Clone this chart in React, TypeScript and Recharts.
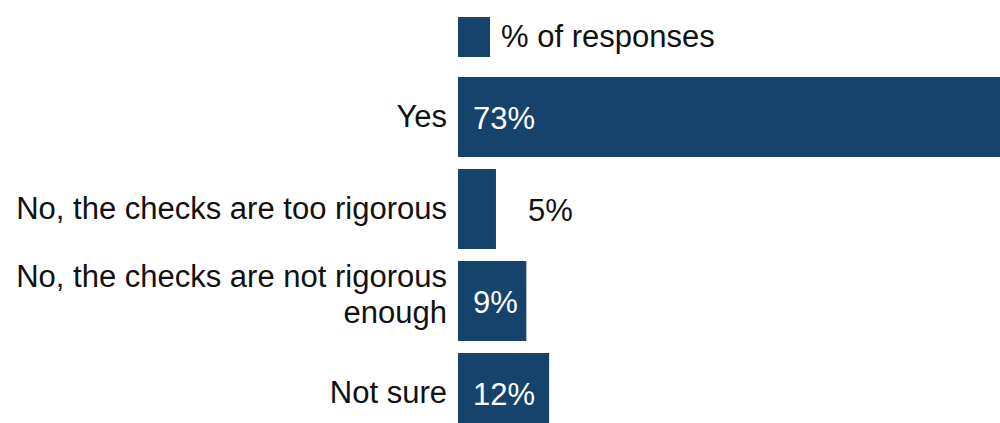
import React from "react";
import { BarChart, Bar, XAxis, YAxis, Legend, LabelList } from "recharts";

const categories = [
  "Yes",
  "No, the checks are too rigorous",
  "No, the checks are not rigorous enough",
  "Not sure",
];
const values = [73, 5, 9, 12];
const seriesName = "% of responses";

const data = categories.map((name, i) => ({ name, value: values[i] }));

const COLOR = "#15436c";
const FONT = '"Liberation Sans", Arial, sans-serif';
const FS = 31;

function wrap(text: string, max: number): string[] {
  const words = text.split(" ");
  const lines: string[] = [];
  let cur = "";
  for (const w of words) {
    const next = cur ? cur + " " + w : w;
    if (next.length > max && cur) {
      lines.push(cur);
      cur = w;
    } else cur = next;
  }
  if (cur) lines.push(cur);
  return lines;
}

const Tick = (props: any) => {
  const { x, y, payload } = props;
  const lines = wrap(String(payload.value), 31);
  const lh = 36;
  const start = lines.length === 1 ? 10 : -14;
  return (
    <text x={x} y={y} textAnchor="end" fontFamily={FONT} fontSize={FS} fill="#111">
      {lines.map((l, i) => (
        <tspan key={i} x={x} y={y + start + i * lh}>
          {l}
        </tspan>
      ))}
    </text>
  );
};

const ValueLabel = (props: any) => {
  const { x, y, width, height, value } = props;
  const outside = value < 6;
  return (
    <text
      x={outside ? x + width + 32 : x + 15}
      y={y + height / 2 + 12}
      fontFamily={FONT}
      fontSize={FS}
      fill={outside ? "#111" : "#ffffff"}
    >
      {value}%
    </text>
  );
};

const LegendContent = () => (
  <div style={{ display: "flex", alignItems: "center", height: 40 }}>
    <div style={{ width: 32, height: 40, background: COLOR }} />
    <span style={{ marginLeft: 11, fontFamily: FONT, fontSize: FS, color: "#111", lineHeight: "40px" }}>
      {seriesName}
    </span>
  </div>
);

export default function App() {
  return (
    <div style={{ position: "absolute", top: 0, left: 0, width: 1000, height: 423, overflow: "hidden", background: "#fff" }}>
      <BarChart
        width={1020}
        height={440}
        data={data}
        layout="vertical"
        margin={{ top: 31, right: 0, bottom: 1, left: 0 }}
        barSize={80}
      >
        <XAxis type="number" domain={[0, 74]} hide />
        <YAxis
          type="category"
          dataKey="name"
          width={458}
          axisLine={false}
          tickLine={false}
          tickSize={0}
          tickMargin={11}
          tick={<Tick />}
          interval={0}
        />
        <Legend
          verticalAlign="top"
          align="left"
          content={<LegendContent />}
          wrapperStyle={{ top: 17, left: 458, width: "auto", height: 40 }}
        />
        <Bar dataKey="value" name={seriesName} fill={COLOR} isAnimationActive={false}>
          <LabelList dataKey="value" content={<ValueLabel />} />
        </Bar>
      </BarChart>
    </div>
  );
}
